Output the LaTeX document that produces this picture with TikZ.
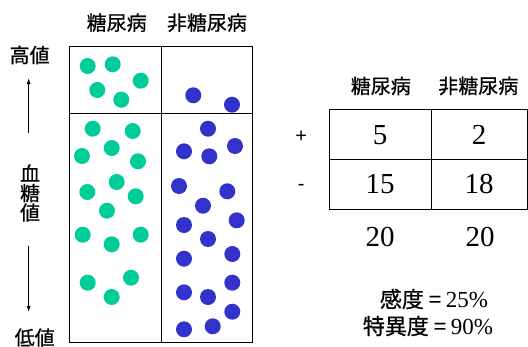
\documentclass[tikz,border=0pt]{standalone}
\usepackage{fontspec}
\setmainfont{Liberation Serif}
\newfontfamily\cjk[FakeBold=0.6]{Noto Sans CJK JP}
\newfontfamily\arial{Liberation Sans}
\usetikzlibrary{arrows.meta,positioning}
\definecolor{dmgreen}{HTML}{00CC99}
\definecolor{dmblue}{HTML}{3333CC}

\begin{document}
\begin{tikzpicture}[x=1pt,y=-1pt,
  gdot/.style={fill=dmgreen,circle,minimum size=16pt,inner sep=0pt},
  bdot/.style={fill=dmblue,circle,minimum size=16pt,inner sep=0pt},
  lbl/.style={font=\cjk\fontsize{20}{19.5}\selectfont,inner sep=0pt},
  sgn/.style={font=\arial\fontsize{20}{20}\selectfont,inner sep=0pt},
  num/.style={font=\fontsize{29}{29}\selectfont,inner sep=0pt},
  cell/.style={draw,line width=1pt,minimum height=49.6pt,inner sep=0pt,num},
  arr/.style={-{Latex[length=6pt,width=4pt]},line width=1pt}]
  \useasboundingbox (0,0) rectangle (528,346);

  % left panel
  \draw[line width=1pt] (69.3,46.7) rectangle (252.7,342.3);
  \draw[line width=1pt] (161.3,46.7) -- (161.3,342.3);
  \draw[line width=1pt] (69.3,113.3) -- (252.7,113.3);

  \node[lbl] (hdia) at (116.7,22.7) {糖尿病};
  \node[lbl] (hnon) at (207,22.7) {非糖尿病};
  \node[lbl] (high) at (29.6,55) {高値};
  \node[lbl] (low) at (34.7,337.5) {低値};
  \node[lbl,align=center] (bg) at (30,193) {血\\糖\\値};

  \coordinate (upS) at (28.7,133);
  \coordinate (upE) at (28.7,78);
  \coordinate (dnS) at (28.7,246);
  \coordinate (dnE) at (28.7,312);
  \draw[arr] (upS) -- (upE);
  \draw[arr] (dnS) -- (dnE);

  % diabetic, green
  \node[gdot] (g1) at (87.7,66) {};
  \node[gdot] (g2) at (112.7,64.3) {};
  \node[gdot] (g3) at (140.7,80.7) {};
  \node[gdot] (g4) at (97.3,90) {};
  \node[gdot] (g5) at (121.3,99.7) {};
  \node[gdot] (g6) at (92.7,128.7) {};
  \node[gdot] (g7) at (132.7,131) {};
  \node[gdot] (g8) at (111.7,148) {};
  \node[gdot] (g9) at (82,156) {};
  \node[gdot] (g10) at (138,161.3) {};
  \node[gdot] (g11) at (116.7,182) {};
  \node[gdot] (g12) at (87.3,192) {};
  \node[gdot] (g13) at (135.7,196.3) {};
  \node[gdot] (g14) at (107,210.7) {};
  \node[gdot] (g15) at (82.7,234.7) {};
  \node[gdot] (g16) at (140.7,234.7) {};
  \node[gdot] (g17) at (111.7,244.3) {};
  \node[gdot] (g18) at (87.7,282.7) {};
  \node[gdot] (g19) at (131,277.7) {};
  \node[gdot] (g20) at (111.7,297) {};

  % non diabetic, blue
  \node[bdot] (b1) at (193.3,95.3) {};
  \node[bdot] (b2) at (232,104.7) {};
  \node[bdot] (b3) at (208,128.7) {};
  \node[bdot] (b4) at (184,151.3) {};
  \node[bdot] (b5) at (209.3,156.3) {};
  \node[bdot] (b6) at (235,146) {};
  \node[bdot] (b7) at (179,186) {};
  \node[bdot] (b8) at (227.3,191.3) {};
  \node[bdot] (b9) at (203,205.7) {};
  \node[bdot] (b10) at (236.7,220.3) {};
  \node[bdot] (b11) at (184,225) {};
  \node[bdot] (b12) at (208,239) {};
  \node[bdot] (b13) at (232.3,254) {};
  \node[bdot] (b14) at (184,258.7) {};
  \node[bdot] (b15) at (232.3,282.7) {};
  \node[bdot] (b16) at (184,292.3) {};
  \node[bdot] (b17) at (208,297) {};
  \node[bdot] (b18) at (232.3,311.7) {};
  \node[bdot] (b19) at (184,329.3) {};
  \node[bdot] (b20) at (212.7,326.3) {};

  % table
  \node[lbl] (tdia) at (380.8,86) {糖尿病};
  \node[lbl] (tnon) at (478.3,86) {非糖尿病};
  \node[sgn] (plus) at (301.3,136.7) {+};
  \node[sgn] (minus) at (301.3,187.7) {-};

  \node[cell,minimum width=101.7pt] (c11) at (380.15,134.65) {5};
  \node[cell,minimum width=96.3pt] (c12) at (479.15,134.65) {2};
  \node[cell,minimum width=101.7pt] (c21) at (380.15,184.25) {15};
  \node[cell,minimum width=96.3pt] (c22) at (479.15,184.25) {18};
  \node[num] (s1) at (380,236.7) {20};
  \node[num] (s2) at (480,236.7) {20};

  \node[inner sep=0pt,font=\fontsize{23}{23}\selectfont] (sens) at (434,299) {{\cjk\fontsize{22}{22}\selectfont 感度 = }25\%};
  \node[inner sep=0pt,font=\fontsize{23}{23}\selectfont] (spec) at (428,326) {{\cjk\fontsize{22}{22}\selectfont 特異度 = }90\%};
\end{tikzpicture}
\end{document}
